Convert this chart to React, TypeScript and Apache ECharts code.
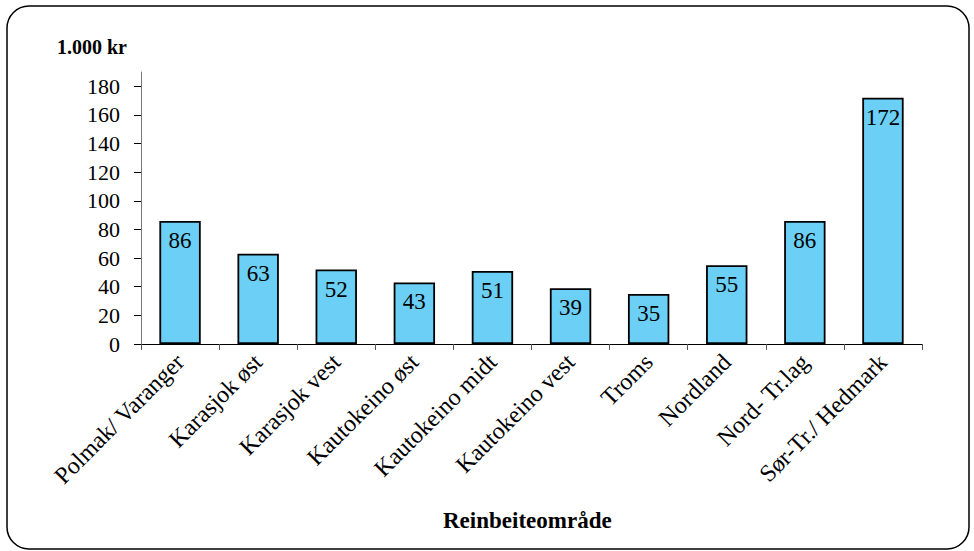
import React, { useEffect, useRef } from "react";
import * as echarts from "echarts";

const categories = [
  "Polmak/ Varanger",
  "Karasjok øst",
  "Karasjok vest",
  "Kautokeino øst",
  "Kautokeino midt",
  "Kautokeino vest",
  "Troms",
  "Nordland",
  "Nord- Tr.lag",
  "Sør-Tr./ Hedmark",
];
const values = [86, 63, 52, 43, 51, 39, 35, 55, 86, 172];
const yTicks = [0, 20, 40, 60, 80, 100, 120, 140, 160, 180];
const yUnit = "1.000 kr";
const xTitle = "Reinbeiteområde";

const FONT = "Liberation Serif";

export default function App() {
  const ref = useRef<HTMLDivElement>(null);
  useEffect(() => {
    if (!ref.current) return;
    const chart = echarts.init(ref.current, undefined, { renderer: "svg" });
    chart.setOption({
      animation: false,
      backgroundColor: "#ffffff",
      textStyle: { fontFamily: FONT },
      graphic: [
        {
          type: "rect",
          shape: { x: 7, y: 6, width: 962, height: 543, r: 22 },
          style: { fill: "none", stroke: "#000", lineWidth: 1.5 },
          z: -1,
        },
        {
          type: "text",
          left: 57,
          top: 37,
          style: { text: yUnit, font: `bold 20px ${FONT}`, fill: "#000" },
        },
        {
          type: "text",
          left: 443,
          top: 509,
          style: { text: xTitle, font: `bold 23px ${FONT}`, fill: "#000" },
        },
      ],
      grid: { left: 141, right: 52, top: 72, bottom: 207, containLabel: false },
      xAxis: {
        type: "category",
        data: categories,
        boundaryGap: true,
        axisLine: { lineStyle: { color: "#000", width: 1 } },
        axisTick: { show: true, length: 6, alignWithLabel: false, lineStyle: { color: "#555" } },
        axisLabel: {
          rotate: 45,
          interval: 0,
          margin: 14,
          fontFamily: FONT,
          fontSize: 24,
          color: "#000",
        },
      },
      yAxis: {
        type: "value",
        min: 0,
        max: 190,
        interval: 10,
        splitLine: { show: false },
        axisLine: { show: true, lineStyle: { color: "#777", width: 1 } },
        axisTick: { show: true, length: 7, customValues: yTicks, lineStyle: { color: "#000" } },
        axisLabel: {
          customValues: yTicks,
          margin: 21,
          fontFamily: FONT,
          fontSize: 22,
          color: "#000",
        },
      },
      series: [
        {
          type: "bar",
          data: values,
          barWidth: "53%",
          itemStyle: { color: "#6BCFF6", borderColor: "#000", borderWidth: 1.8 },
          label: {
            show: true,
            position: "insideTop",
            distance: 8,
            fontFamily: FONT,
            fontSize: 23,
            color: "#000",
          },
        },
      ],
    });
    return () => chart.dispose();
  }, []);
  return (
    <div
      ref={ref}
      style={{ position: "fixed", left: 0, top: 0, width: 974, height: 551 }}
    />
  );
}
